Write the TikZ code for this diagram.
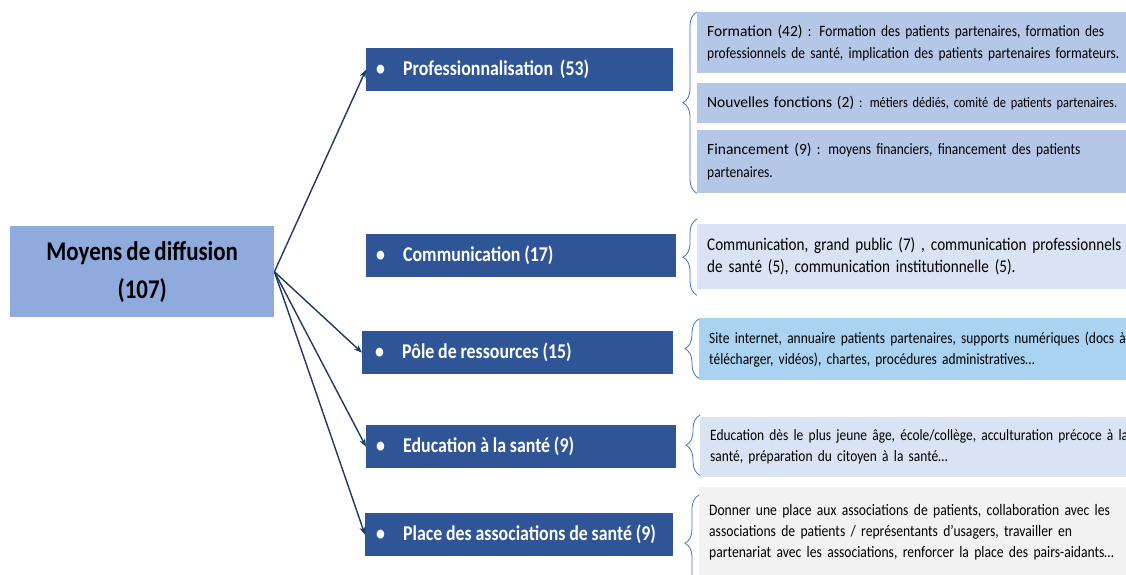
\documentclass[tikz,border=0pt]{standalone}
\usepackage{fontspec}
\setmainfont{Carlito}[FakeStretch=0.85, WordSpace=0.8]
\newfontfamily\leadfont{Carlito}
\usetikzlibrary{arrows.meta,decorations.pathreplacing}
\definecolor{mainblue}{HTML}{8FAADC}
\definecolor{darkblue}{HTML}{2F5597}
\definecolor{navy}{HTML}{203864}
\definecolor{braceblue}{HTML}{4472C4}
\definecolor{paleblue}{HTML}{B4C7E7}
\definecolor{lightblue}{HTML}{DAE3F3}
\definecolor{skyblue}{HTML}{A9D3F0}
\definecolor{lightgrey}{HTML}{F2F2F2}
\newcommand{\LeadText}[1]{{\leadfont\fontsize{15.5}{22}\selectfont #1}}
\newcommand{\Puce}{\makebox[27pt][l]{\textbullet}}

\begin{document}
\begin{tikzpicture}[x=1pt, y=-1pt,
  themebox/.style={fill=darkblue, text=white, anchor=north west, inner sep=0pt,
    align=left, minimum height=43pt, font=\fontsize{21}{24}\selectfont\bfseries,
    execute at begin node={\spaceskip=3.8pt plus 1pt}},
  detailbox/.style={fill=#1, anchor=north west, align=left, text width=440pt,
    inner xsep=10pt, inner ysep=0pt, font=\fontsize{15.8}{21}\selectfont},
  link/.style={->, >={Stealth[length=8pt,width=6pt]}, color=navy, line width=1.4pt},
  accolade/.style={braceblue, line width=0.8pt, decorate,
    decoration={brace, amplitude=14pt}}]

  \clip (0,0) rectangle (1126,574);
  \fill[white] (0,0) rectangle (1126,574);

  %% main box
  \node[fill=mainblue, anchor=north west, minimum width=264pt, minimum height=91pt,
    align=center, font=\fontsize{27}{38}\selectfont\bfseries, inner sep=0pt]
    (diff) at (10,226) {Moyens de diffusion\\(107)};

  %% themes
  \node[themebox, text width=307pt] (prof) at (366,48)
    {\hspace*{10pt}\Puce Professionnalisation\hspace{3pt} (53)};
  \node[themebox, text width=310pt] (comm) at (366,234)
    {\hspace*{10pt}\Puce Communication (17)};
  \node[themebox, text width=311pt] (pole) at (362,331)
    {\hspace*{13pt}\Puce Pôle de ressources (15)};
  \node[themebox, text width=310pt] (educ) at (366,425)
    {\hspace*{10pt}\Puce Education à la santé (9)};
  \node[themebox, text width=308pt] (assoc) at (365,513)
    {\hspace*{11pt}\Puce Place des associations de santé (9)};

  %% details
  \node[detailbox=paleblue, minimum height=61pt, font=\fontsize{15.8}{22}\selectfont]
    (form) at (697,12)
    {\LeadText{Formation (42)} : Formation des patients partenaires, formation des\\
     professionnels de santé, implication des patients partenaires formateurs.};
  \node[detailbox=paleblue, minimum height=40pt, font=\fontsize{14.6}{22}\selectfont]
    (fonc) at (697,83)
    {\LeadText{Nouvelles fonctions (2)} : métiers dédiés, comité de patients partenaires.};
  \node[detailbox=paleblue, minimum height=63pt, font=\fontsize{15.8}{23}\selectfont]
    (fin) at (697,130)
    {\LeadText{Financement (9)} : moyens financiers, financement des patients\\
     partenaires.};
  \node[detailbox=lightblue, minimum height=65pt, font=\fontsize{17.8}{22}\selectfont]
    (commd) at (697,224)
    {Communication, grand public (7) , communication professionnels\\
     de santé (5), communication institutionnelle (5).};
  \node[detailbox=skyblue, minimum height=62pt] (poled) at (699,318)
    {Site internet, annuaire patients partenaires, supports numériques (docs à\\
     télécharger, vidéos), chartes, procédures administratives…};
  \node[detailbox=lightblue, minimum height=60pt] (educd) at (700,417)
    {Education dès le plus jeune âge, école/collège, acculturation précoce à la\\
     santé, préparation du citoyen à la santé…};
  \node[detailbox=lightgrey, minimum height=90pt, font=\fontsize{16}{21}\selectfont]
    (assocd) at (699,487)
    {Donner une place aux associations de patients, collaboration avec les\\
     associations de patients / représentants d’usagers, travailler en\\
     partenariat avec les associations, renforcer la place des pairs-aidants…};

  %% arrows
  \draw[link] (diff.east) -- (prof.west);
  \draw[link] (diff.east) -- (pole.west);
  \draw[link] (diff.east) -- (educ.west);
  \draw[link] (diff.east) -- (assoc.west);

  %% braces
  \draw[accolade] (fin.south west) -- (form.north west);
  \draw[accolade] ([yshift=-6pt]commd.south west) -- ([yshift=5pt]commd.north west);
  \draw[accolade] ([yshift=2pt]poled.south west) -- ([yshift=-1pt]poled.north west);
  \draw[accolade] ([yshift=2pt]educd.south west) -- ([yshift=2pt]educd.north west);
  \draw[accolade] ([yshift=-14pt]assocd.south west) -- ([yshift=-8pt]assocd.north west);

\end{tikzpicture}
\end{document}
